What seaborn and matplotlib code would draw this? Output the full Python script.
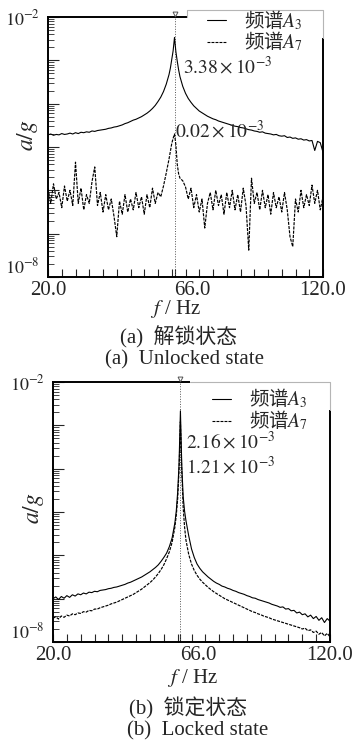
import numpy as np
import matplotlib
matplotlib.use("Agg")
import matplotlib.pyplot as plt
import matplotlib.transforms as mtransforms
import seaborn as sns
from matplotlib.lines import Line2D
from matplotlib.patches import Rectangle
from matplotlib.ticker import FixedLocator, FixedFormatter, LogLocator, NullFormatter

# ---------------------------------------------------------------------------
# Spectrum data: frequency (Hz) and log10 of the acceleration amplitude a/g
# ---------------------------------------------------------------------------
PEAK_HZ = 66.0
freq = (list(range(20, 65))
        + [64.5, 65.0, 65.5, 66.0, 66.5, 67.0, 67.5]
        + list(range(68, 121)))
freq = sorted(freq)

# (a) unlocked state
a3_unlocked = [
    -4.72, -4.70, -4.73, -4.71, -4.72, -4.69, -4.71, -4.70, -4.68, -4.70,   # 20-29
    -4.67, -4.69, -4.66, -4.67, -4.65, -4.66, -4.63, -4.64, -4.62, -4.61,   # 30-39
    -4.60, -4.59, -4.57, -4.56, -4.54, -4.53, -4.51, -4.49, -4.46, -4.44,   # 40-49
    -4.41, -4.38, -4.36, -4.33, -4.30, -4.26, -4.22, -4.17, -4.11, -4.04,   # 50-59
    -3.95, -3.85, -3.72, -3.55, -3.33,                                      # 60-64
    -3.18, -2.98, -2.78, -2.4711, -2.80, -3.02, -3.22,                      # 64.5-67.5
    -3.38, -3.60, -3.76, -3.88, -3.97, -4.05, -4.11, -4.17, -4.21, -4.25,   # 68-77
    -4.29, -4.32, -4.35, -4.37, -4.40, -4.42, -4.44, -4.46, -4.48, -4.50,   # 78-87
    -4.52, -4.53, -4.55, -4.56, -4.58, -4.60, -4.61, -4.63, -4.64, -4.66,   # 88-97
    -4.65, -4.68, -4.69, -4.70, -4.72, -4.71, -4.74, -4.75, -4.74, -4.78,   # 98-107
    -4.77, -4.80, -4.79, -4.82, -4.81, -4.84, -4.83, -4.86, -4.85, -5.08,   # 108-117
    -4.87, -4.90, -5.12,                                                    # 118-120
]
a7_unlocked = [
    -5.95, -6.30, -5.85, -6.20, -6.05, -6.40, -5.90, -6.25, -6.00, -6.35,   # 20-29
    -5.35, -6.30, -5.95, -6.45, -6.10, -6.30, -5.80, -5.46, -6.35, -6.05,   # 30-39
    -6.50, -6.10, -6.45, -6.20, -6.60, -7.07, -6.25, -6.55, -6.10, -6.50,   # 40-49
    -6.20, -6.45, -6.05, -6.40, -6.15, -6.55, -6.10, -6.40, -5.95, -6.30,   # 50-59
    -6.05, -6.15, -5.90, -5.60, -5.28,                                      # 60-64
    -5.10, -4.92, -4.80, -4.699, -4.95, -5.40, -5.62,                       # 64.5-67.5
    -5.72, -5.78, -5.92, -6.20, -5.95, -6.40, -6.10, -6.50, -6.20, -6.87,   # 68-77
    -6.30, -6.05, -6.45, -6.00, -6.35, -6.10, -6.55, -6.05, -6.40, -6.00,   # 78-87
    -6.45, -6.10, -6.50, -5.95, -6.35, -7.38, -5.72, -6.30, -6.05, -6.45,   # 88-97
    -6.00, -6.40, -6.10, -6.55, -6.05, -6.40, -6.15, -6.50, -6.05, -6.45,   # 98-107
    -7.07, -7.30, -6.20, -6.50, -6.00, -6.40, -6.10, -6.35, -5.88, -6.30,   # 108-117
    -6.00, -6.45, -6.15,                                                    # 118-120
]

# (b) locked state
a3_locked = [
    -7.00, -6.96, -7.02, -6.95, -6.99, -6.93, -6.97, -6.91, -6.94, -6.89,   # 20-29
    -6.91, -6.87, -6.89, -6.85, -6.86, -6.83, -6.84, -6.81, -6.80, -6.79,   # 30-39
    -6.77, -6.76, -6.74, -6.73, -6.71, -6.69, -6.67, -6.64, -6.62, -6.59,   # 40-49
    -6.56, -6.53, -6.50, -6.46, -6.42, -6.38, -6.33, -6.28, -6.22, -6.14,   # 50-59
    -6.05, -5.95, -5.80, -5.60, -5.25,                                      # 60-64
    -4.98, -4.55, -3.90, -2.6655, -3.95, -4.65, -4.98,                      # 64.5-67.5
    -5.20, -5.55, -5.85, -6.05, -6.20, -6.30, -6.38, -6.44, -6.50, -6.55,   # 68-77
    -6.60, -6.64, -6.67, -6.71, -6.73, -6.76, -6.78, -6.81, -6.83, -6.86,   # 78-87
    -6.88, -6.90, -6.93, -6.95, -6.98, -6.99, -7.02, -7.04, -7.06, -7.08,   # 88-97
    -7.10, -7.13, -7.15, -7.17, -7.20, -7.19, -7.24, -7.23, -7.28, -7.27,   # 98-107
    -7.33, -7.31, -7.37, -7.35, -7.42, -7.38, -7.46, -7.41, -7.50, -7.44,   # 108-117
    -7.55, -7.46, -7.52,                                                    # 118-120
]
a7_locked = [
    -7.45, -7.42, -7.47, -7.40, -7.43, -7.38, -7.40, -7.35, -7.37, -7.33,   # 20-29
    -7.34, -7.30, -7.31, -7.27, -7.28, -7.24, -7.24, -7.21, -7.19, -7.17,   # 30-39
    -7.15, -7.12, -7.10, -7.08, -7.05, -7.02, -6.99, -6.96, -6.93, -6.90,   # 40-49
    -6.86, -6.82, -6.78, -6.73, -6.68, -6.63, -6.57, -6.50, -6.42, -6.33,   # 50-59
    -6.22, -6.08, -5.92, -5.70, -5.35,                                      # 60-64
    -5.08, -4.70, -4.05, -2.9172, -4.10, -4.90, -5.35,                      # 64.5-67.5
    -5.65, -5.98, -6.20, -6.35, -6.46, -6.55, -6.62, -6.68, -6.74, -6.79,   # 68-77
    -6.84, -6.88, -6.92, -6.96, -7.00, -7.03, -7.06, -7.09, -7.12, -7.15,   # 78-87
    -7.18, -7.21, -7.24, -7.27, -7.30, -7.32, -7.35, -7.37, -7.40, -7.42,   # 88-97
    -7.44, -7.47, -7.49, -7.51, -7.53, -7.55, -7.57, -7.59, -7.61, -7.63,   # 98-107
    -7.65, -7.67, -7.70, -7.68, -7.74, -7.72, -7.78, -7.75, -7.82, -7.78,   # 108-117
    -7.86, -7.80, -7.88,                                                    # 118-120
]

x_ticks = [20, 66, 120]
x_tick_labels = ["20.0", "66.0", "120.0"]
legend_labels = ["频谱$A_3$", "频谱$A_7$"]
captions = [("(a)  解锁状态", "(a)  Unlocked state"),
            ("(b)  锁定状态", "(b)  Locked state")]

# ---------------------------------------------------------------------------
sns.set_style("ticks")
plt.rcParams["font.family"] = ["Liberation Serif", "Noto Sans CJK SC"]
plt.rcParams["mathtext.fontset"] = "stix"
plt.rcParams["axes.linewidth"] = 1.4
plt.rcParams["axes.edgecolor"] = "black"

SERIF_CJK = ["Liberation Serif", "Noto Sans CJK SC"]
DASH = (0, (2.6, 1.0))
BOX_EDGE = "#b5b5b5"

fig = plt.figure(figsize=(3.52, 7.44), dpi=100)

panels = [
    dict(rect=[48 / 352, 1 - 277 / 744, 275 / 352, 260 / 744],
         a3=a3_unlocked, a7=a7_unlocked, caps=captions[0],
         box=(0.505, 0.919, 1.0, 1.027),
         legend_anchor=(0.578, 1.034),
         note_pos=[(0.49, 0.808), (0.462, 0.565)],
         ylabel_pos=(-0.073, 0.546),
         xlabel_pos=(0.465, -0.123), cap_pos=[(0.473, -0.231), (0.498, -0.320)]),
    dict(rect=[53 / 352, 1 - 642 / 744, 277 / 352, 260 / 744],
         a3=a3_locked, a7=a7_locked, caps=captions[1],
         box=(0.495, 0.892, 1.0, 1.0),
         legend_anchor=(0.574, 0.981),
         note_pos=[(0.48, 0.769), (0.48, 0.673)],
         ylabel_pos=(-0.072, 0.515),
         xlabel_pos=(0.502, -0.138), cap_pos=[(0.487, -0.254), (0.523, -0.343)]),
]

for p in panels:
    ax = fig.add_axes(p["rect"])
    amp3 = 10.0 ** np.asarray(p["a3"])
    amp7 = 10.0 ** np.asarray(p["a7"])

    ax.axvline(PEAK_HZ, color="#555555", lw=0.7, ls=(0, (1, 1.6)), zorder=1)
    sns.lineplot(x=freq, y=amp3, ax=ax, color="black", lw=0.8,
                 estimator=None, sort=False, zorder=3)
    sns.lineplot(x=freq, y=amp7, ax=ax, color="black", lw=0.85,
                 ls=DASH, estimator=None, sort=False, zorder=3)

    # small peak marker above the frame
    trans = mtransforms.blended_transform_factory(ax.transData, ax.transAxes)
    ax.plot([PEAK_HZ], [1.012], transform=trans, marker="v", ms=3.5,
            mfc="none", mec="#555555", mew=0.7, clip_on=False, zorder=6)

    # axes scales and ticks
    ax.set_xlim(20, 120)
    ax.set_yscale("log")
    ax.set_ylim(1e-8, 1e-2)
    ax.xaxis.set_major_locator(FixedLocator(x_ticks))
    ax.xaxis.set_major_formatter(FixedFormatter(x_tick_labels))
    ax.xaxis.set_minor_locator(FixedLocator(np.arange(25, 120, 5)))
    decades = [1e-8, 1e-7, 1e-6, 1e-5, 1e-4, 1e-3, 1e-2]
    ax.yaxis.set_major_locator(FixedLocator(decades))
    ax.yaxis.set_major_formatter(FixedFormatter(
        ["$10^{-8}$", "", "", "", "", "", "$10^{-2}$"]))
    ax.yaxis.set_minor_locator(LogLocator(base=10, subs=np.arange(2, 10), numticks=100))
    ax.yaxis.set_minor_formatter(NullFormatter())
    ax.tick_params(axis="x", which="both", direction="in", length=6, width=0.8,
                   top=False, labelsize=15, pad=3)
    ax.tick_params(axis="y", which="major", direction="in", length=8, width=0.8,
                   right=False, labelsize=13, pad=6)
    ax.tick_params(axis="y", which="minor", direction="in", length=4.5, width=0.6,
                   right=False)
    ax.xaxis.get_major_ticks()[1].label1.set_horizontalalignment("left")
    ax.yaxis.get_major_ticks()[0].label1.set_verticalalignment("bottom")
    ax.set_xlabel("")
    ax.set_ylabel("")

    # peak value notes, taken from the plotted peaks
    for amp, pos in zip([amp3, amp7], p["note_pos"]):
        peak = amp.max()
        ax.text(pos[0], pos[1], rf"${peak * 1e3:.2f}\times10^{{-3}}$",
                transform=ax.transAxes, fontsize=14, ha="left", va="center")

    # legend box over the upper right corner of the frame
    x0, y0, x1, y1 = p["box"]
    ax.add_patch(Rectangle((x0, y0), x1 - x0 + 0.01, y1 - y0 + 0.008,
                           transform=ax.transAxes, facecolor="white",
                           edgecolor="none", clip_on=False, zorder=4))
    ax.add_line(Line2D([x0, x0, x1, x1], [min(y1, 1.0), y1, y1, y0],
                       transform=ax.transAxes, color=BOX_EDGE, lw=0.8,
                       clip_on=False, zorder=4.5))
    handles = [Line2D([], [], color="black", lw=0.8),
               Line2D([], [], color="black", lw=0.8, ls=DASH)]
    leg = ax.legend(handles, legend_labels, loc="upper left",
                    bbox_to_anchor=p["legend_anchor"], borderaxespad=0,
                    prop={"family": "Noto Sans CJK SC", "size": 14},
                    handlelength=1.0, handletextpad=0.9, labelspacing=-0.1,
                    borderpad=0, frameon=False)
    leg.set_zorder(8)

    # axis titles and captions
    ax.text(*p["ylabel_pos"], "$a/g$", transform=ax.transAxes, rotation=90,
            fontsize=17, ha="center", va="center")
    ax.text(*p["xlabel_pos"], "$f$ / Hz", transform=ax.transAxes,
            fontsize=15, ha="center", va="center", family="Liberation Serif")
    for text, pos in zip(p["caps"], p["cap_pos"]):
        ax.text(*pos, text, transform=ax.transAxes, fontsize=15,
                ha="center", va="center", family=SERIF_CJK)

fig.savefig("out.png", dpi=100)
